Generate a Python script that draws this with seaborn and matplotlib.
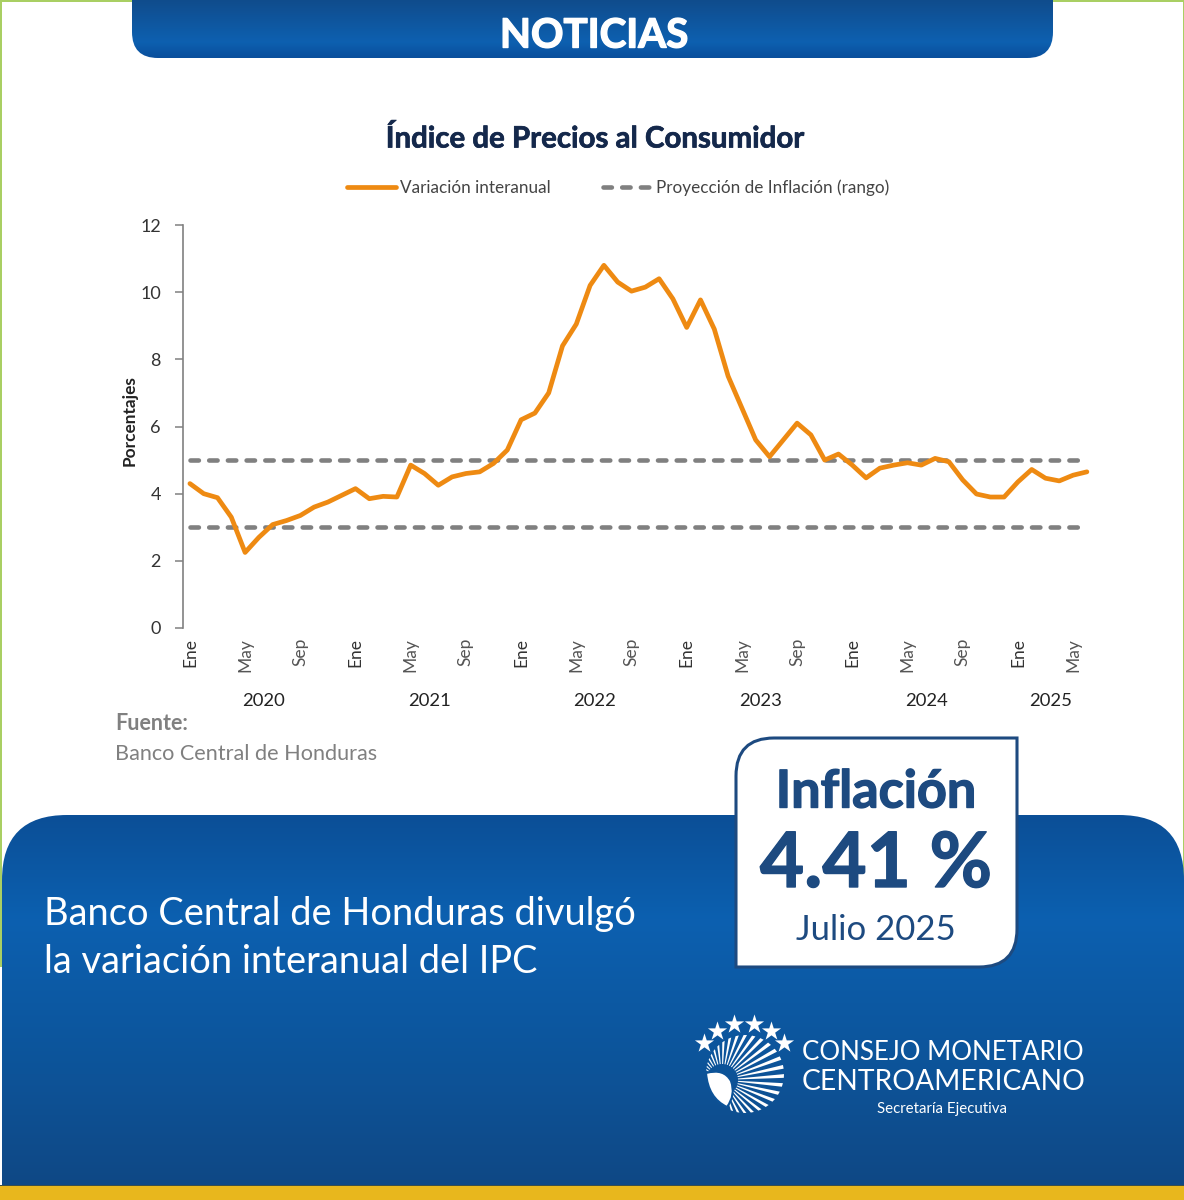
import numpy as np
import matplotlib
matplotlib.use("Agg")
import matplotlib.pyplot as plt
import matplotlib.patheffects as pe
import seaborn as sns
from matplotlib.colors import LinearSegmentedColormap
from matplotlib.patches import PathPatch, Polygon, Rectangle
from matplotlib.path import Path
from matplotlib.transforms import ScaledTranslation

# valores, por anio
ipc_2020 = [4.30, 4.00, 3.88, 3.30, 2.25, 2.70, 3.08, 3.20, 3.35, 3.60, 3.75, 3.95]
ipc_2021 = [4.15, 3.85, 3.92, 3.90, 4.85, 4.60, 4.25, 4.50, 4.60, 4.65, 4.90, 5.30]
ipc_2022 = [6.20, 6.40, 7.00, 8.40, 9.05, 10.20, 10.80, 10.30, 10.03, 10.15, 10.40, 9.80]
ipc_2023 = [8.95, 9.77, 8.90, 7.50, 6.55, 5.60, 5.10, 5.60, 6.10, 5.75, 5.00, 5.18]
ipc_2024 = [4.85, 4.47, 4.76, 4.85, 4.92, 4.85, 5.05, 4.95, 4.41, 3.99, 3.90, 3.90]
ipc_2025 = [4.35, 4.72, 4.46, 4.38, 4.55, 4.65]

years = [2020, 2021, 2022, 2023, 2024, 2025]
month_names = ["Ene", "May", "Sep"]
range_low = 3
range_high = 5
y_ticks = [0, 2, 4, 6, 8, 10, 12]

ORANGE = "#ee8a12"
GREY = "#808080"
NAVY = "#1d4a80"
BLUE = "#0d5398"
FONT = "Lato"

sns.set_theme(style="white")
plt.rcParams["font.family"] = [FONT, "DejaVu Sans"]

W, H = 1184, 1200
fig = plt.figure(figsize=(W / 100, H / 100), dpi=100, facecolor="white")

# capa de fondo en pixeles
bg = fig.add_axes([0, 0, 1, 1], zorder=0)
bg.set_xlim(0, W)
bg.set_ylim(H, 0)
bg.axis("off")


def rounded(x0, y0, x1, y1, tl=0, tr=0, br=0, bl=0):
    verts = [(x0 + tl, y0), (x1 - tr, y0), (x1, y0), (x1, y0 + tr), (x1, y1 - br), (x1, y1),
             (x1 - br, y1), (x0 + bl, y1), (x0, y1), (x0, y1 - bl), (x0, y0 + tl), (x0, y0),
             (x0 + tl, y0), (x0 + tl, y0)]
    codes = [Path.MOVETO, Path.LINETO, Path.CURVE3, Path.CURVE3, Path.LINETO, Path.CURVE3, Path.CURVE3,
             Path.LINETO, Path.CURVE3, Path.CURVE3, Path.LINETO, Path.CURVE3, Path.CURVE3, Path.CLOSEPOLY]
    return Path(verts, codes)


def gradient(path, y0, y1, stops, z):
    x0, x1 = path.vertices[:, 0].min(), path.vertices[:, 0].max()
    cmap = LinearSegmentedColormap.from_list("g", stops)
    im = bg.imshow(np.linspace(0, 1, 256).reshape(-1, 1), cmap=cmap, aspect="auto",
                   extent=(x0, x1, y1, y0), zorder=z)
    patch = PathPatch(path, fc="none", ec="none", transform=bg.transData)
    bg.add_patch(patch)
    im.set_clip_path(patch)
    bg.set_xlim(0, W)
    bg.set_ylim(H, 0)


def heavy(width, color):
    return [pe.withStroke(linewidth=width, foreground=color)]


# borde verde
bg.add_patch(Rectangle((0, 0), 1.5, 967, fc="#a9cf63", ec="none", zorder=1))
bg.add_patch(Rectangle((0, 0), W, 1.5, fc="#a9cf63", ec="none", zorder=1))
bg.add_patch(Rectangle((W - 1.5, 0), 1.5, 967, fc="#a9cf63", ec="none", zorder=1))

# banner superior
gradient(rounded(132, 0, 1053, 58, bl=26, br=26), 0, 58,
         [(0, "#104c8c"), (0.72, "#0d60b0"), (1, "#0a4f9c")], 2)
bg.text(594, 36, "NOTICIAS", color="white", fontsize=29, fontweight="bold", ha="center", va="center", zorder=3,
        path_effects=heavy(1.0, "white"))

# panel inferior
gradient(rounded(2, 815, W, 1186, tl=65, tr=65), 815, 1186,
         [(0, "#0b4f97"), (0.28, "#0c60b0"), (0.7, BLUE), (1, "#0f4885")], 2)
bg.add_patch(Rectangle((0, 1186), W, 14, fc="#e8b71d", ec="none", zorder=3))
bg.add_patch(Rectangle((0, 1184.5), W, 1.5, fc="#3b4f4a", ec="none", zorder=3))

bg.text(44, 914, "Banco Central de Honduras divulgó", color="white", fontsize=27.4, ha="left", va="center", zorder=4)
bg.text(44, 962, "la variación interanual del IPC", color="white", fontsize=27.4, ha="left", va="center", zorder=4)

# recuadro inflacion
bg.add_patch(PathPatch(rounded(736, 738, 1017, 967, tl=38, br=38), fc="white", ec=NAVY, lw=2.2, zorder=5))
bg.text(876, 793, "Inflación", color=NAVY, fontsize=37.5, fontweight="bold", ha="center", va="center", zorder=6,
        path_effects=heavy(1.0, NAVY))
bg.text(876, 865, "4.41 %", color=NAVY, fontsize=55, fontweight="bold", ha="center", va="center", zorder=6,
        path_effects=heavy(1.0, NAVY))
bg.text(876, 930, "Julio 2025", color=NAVY, fontsize=25, ha="center", va="center", zorder=6)

# logo
for sx, sy in [(704, 1043), (717, 1031), (734, 1024), (754, 1024), (771, 1031), (784, 1043)]:
    bg.scatter([sx], [sy], marker="*", s=210, color="white", linewidths=0, zorder=4)
cx, cy, rad = 745, 1074, 39
fx, fy = 722, 1080
for a in np.linspace(np.radians(172), np.radians(-72), 30):
    pts = []
    for da in (-0.03, 0.03):
        ux, uy = np.cos(a + da), -np.sin(a + da)
        b = (fx - cx) * ux + (fy - cy) * uy
        c = (fx - cx) ** 2 + (fy - cy) ** 2 - rad ** 2
        t = -b + np.sqrt(b * b - c)
        pts.append(((fx + 16 * ux, fy + 16 * uy), (fx + t * ux, fy + t * uy)))
    bg.add_patch(Polygon([pts[0][0], pts[0][1], pts[1][1], pts[1][0]], fc="white", ec="none", zorder=4))
leaf = Path([(706, 1073), (724, 1068), (731, 1081), (736, 1095), (727, 1107), (708, 1098), (706, 1073), (706, 1073)],
            [Path.MOVETO, Path.CURVE3, Path.CURVE3, Path.CURVE3, Path.CURVE3, Path.CURVE3, Path.CURVE3, Path.CLOSEPOLY])
bg.add_patch(PathPatch(leaf, fc="white", ec=BLUE, lw=1.5, zorder=5))
bg.text(802, 1052, "CONSEJO MONETARIO", color="white", fontsize=18.6, ha="left", va="center", zorder=4)
bg.text(802, 1082, "CENTROAMERICANO", color="white", fontsize=20.3, ha="left", va="center", zorder=4)
bg.text(942, 1109, "Secretaría Ejecutiva", color="white", fontsize=10.8, ha="center", va="center", zorder=4)

# grafico
ax_left, ax_right, ax_top, ax_bottom = 183, 1093.8, 225, 628
ax = fig.add_axes([ax_left / W, 1 - ax_bottom / H, (ax_right - ax_left) / W, (ax_bottom - ax_top) / H], zorder=2)
ax.patch.set_alpha(0)

ipc = ipc_2020 + ipc_2021 + ipc_2022 + ipc_2023 + ipc_2024 + ipc_2025
months = np.arange(len(ipc))
low = [range_low] * len(ipc)
high = [range_high] * len(ipc)

dash = (0, (1.83, 2.25))
sns.lineplot(x=months, y=low, ax=ax, color=GREY, lw=3.3, linestyle=dash, dash_capstyle="round",
             errorbar=None, label="Proyección de Inflación (rango)")
sns.lineplot(x=months, y=high, ax=ax, color=GREY, lw=3.3, linestyle=dash, dash_capstyle="round",
             errorbar=None)
sns.lineplot(x=months, y=ipc, ax=ax, color=ORANGE, lw=3.4, errorbar=None, solid_joinstyle="round",
             solid_capstyle="round", label="Variación interanual")

ax.set_xlim(-0.5, len(ipc) - 0.5)
ax.set_ylim(0, 12)
ax.set_yticks(y_ticks)
ax.set_yticklabels(y_ticks, fontsize=13, color="#333333")
ticks = months[::4]
ax.set_xticks(ticks)
ax.set_xticklabels([month_names[i % 3] for i in range(len(ticks))], rotation=90, fontsize=12.5, color="#555555")
nudge = ScaledTranslation(2 / 100, 0, fig.dpi_scale_trans)
for lab in ax.get_xticklabels():
    lab.set_transform(lab.get_transform() + nudge)
    if lab.get_text() == "Ene":
        lab.set_color("#333333")
ax.tick_params(axis="x", length=0, pad=7)
ax.tick_params(axis="y", length=6, width=1.1, color=GREY, left=True, pad=10)
sns.despine(ax=ax, top=True, right=True, bottom=True)
ax.spines["left"].set_color(GREY)
ax.spines["left"].set_linewidth(1.2)
ax.grid(False)
ax.set_xlabel("")
ax.set_ylabel("")

# etiquetas de anio bajo los meses
pos = 0
for year, serie in zip(years, [ipc_2020, ipc_2021, ipc_2022, ipc_2023, ipc_2024, ipc_2025]):
    mid = pos + (len(serie) - 1) / 2 - 0.15
    ax.text(mid, -(701 - ax_bottom) / (ax_bottom - ax_top), str(year), transform=ax.get_xaxis_transform(),
            ha="center", va="center", fontsize=13.3, color="#222222")
    pos += len(serie)

handles, labels = ax.get_legend_handles_labels()
ax.legend(handles[::-1], labels[::-1], loc="center", bbox_to_anchor=(618 / W, 1 - 188 / H),
          bbox_transform=fig.transFigure, ncol=2, frameon=False, fontsize=12.3, handlelength=2.9,
          handletextpad=0.2, columnspacing=3.1, labelcolor="#444444")

bg.text(594, 139, "Índice de Precios al Consumidor", color="#14284b", fontsize=21.2, fontweight="bold",
        ha="center", va="center", zorder=4, path_effects=heavy(0.5, "#14284b"))
bg.text(130, 421, "Porcentajes", color="#222222", fontsize=12.4, fontweight="bold", rotation=90,
        ha="center", va="center", zorder=4)
bg.text(115, 723, "Fuente:", color=GREY, fontsize=15.5, fontweight="bold", ha="left", va="center", zorder=4)
bg.text(115, 754, "Banco Central de Honduras", color=GREY, fontsize=15.6, ha="left", va="center", zorder=4)

fig.savefig("out.png", dpi=100)
